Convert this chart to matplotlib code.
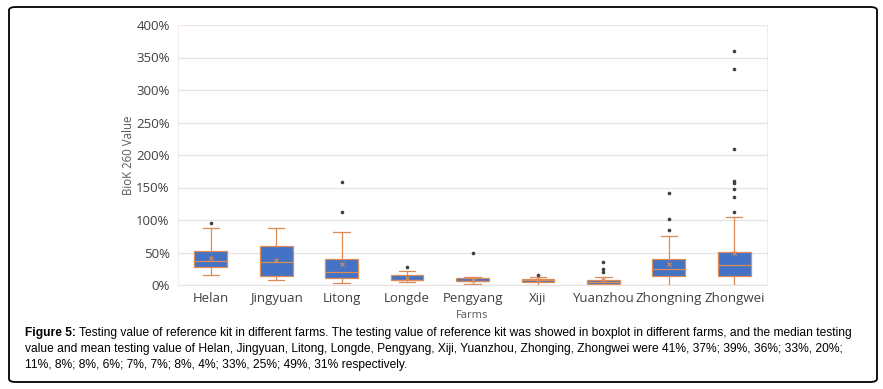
import matplotlib
matplotlib.use("Agg")
import matplotlib.pyplot as plt
from matplotlib.patches import FancyBboxPatch
from matplotlib.ticker import FuncFormatter

farms = ["Helan", "Jingyuan", "Litong", "Longde", "Pengyang", "Xiji", "Yuanzhou", "Zhongning", "Zhongwei"]
q1 = [27, 14, 11, 8, 6, 5, 1.5, 14, 14]
medians = [37, 36, 20, 8, 6, 7, 4, 25, 31]
q3 = [52, 59.5, 40, 16, 11, 9, 7, 39.5, 51]
whisker_low = [15, 7.7, 3, 4, 1, 0.5, 0.5, 0, 0.5]
whisker_high = [87, 87, 81.5, 21, 12, 12, 12, 75, 104]
means = [41, 39, 33, 11, 8, 7, 8, 33, 49]
outliers = [
    [95],
    [],
    [113, 158],
    [27.7],
    [50],
    [15],
    [20, 25, 35],
    [85, 101, 141],
    [112, 135, 148, 157, 160, 210, 332, 360],
]
y_ticks = [0, 50, 100, 150, 200, 250, 300, 350, 400]

W, H = 883, 389
fig = plt.figure(figsize=(W / 100, H / 100), dpi=100)
plt.rcParams['font.family'] = ['Open Sans', 'DejaVu Sans']

# outer rounded border
border = FancyBboxPatch((9 / W, 7 / H), 868 / W, 375 / H,
                        boxstyle="round,pad=0,rounding_size=0.008",
                        transform=fig.transFigure, fill=False,
                        edgecolor="black", linewidth=1.3)
fig.patches.append(border)

ax = fig.add_axes([178 / W, (H - 285) / H, 589 / W, 260 / H])

stats = []
for i, f in enumerate(farms):
    stats.append(dict(label=f, q1=q1[i], med=medians[i], q3=q3[i],
                      whislo=whisker_low[i], whishi=whisker_high[i],
                      mean=means[i], fliers=outliers[i]))

orange = "#DE8C55"
blue = "#4472C4"
ax.bxp(stats, positions=range(len(farms)), widths=0.5, patch_artist=True,
       showmeans=True, showfliers=True,
       boxprops=dict(facecolor=blue, edgecolor=orange, linewidth=0.9),
       medianprops=dict(color=orange, linewidth=0.9),
       whiskerprops=dict(color=orange, linewidth=0.9),
       capprops=dict(color=orange, linewidth=0.9),
       meanprops=dict(marker="x", markeredgecolor=orange, markersize=3, markeredgewidth=0.8),
       flierprops=dict(marker="o", markerfacecolor="#404040", markeredgecolor="#404040",
                       markersize=1.6))

ax.set_xlim(-0.5, len(farms) - 0.5)
ax.set_ylim(0, 400)
ax.set_yticks(y_ticks)
ax.yaxis.set_major_formatter(FuncFormatter(lambda v, p: f"{int(v)}%"))
ax.grid(axis="y", color="#E3E3E3", linewidth=0.9)
ax.set_axisbelow(True)
for s in ["top", "right", "left"]:
    ax.spines[s].set_color("#F2E6E6")
    ax.spines[s].set_linewidth(0.6)
ax.spines["bottom"].set_color("#E3E3E3")
ax.tick_params(axis="both", length=0, colors="#595959", labelsize=9.5)
ax.tick_params(axis="x", pad=5)
ax.tick_params(axis="y", pad=6)
ax.set_xticks(range(len(farms)))
ax.set_xticklabels(farms)
for lbl in ax.get_xticklabels() + ax.get_yticklabels():
    lbl.set_color("#404040")

fig.text(128 / W, 1 - 155 / H, "BioK 260 Value", rotation=90, ha="center", va="center",
         fontsize=8.3, color="#595959")
fig.text(472 / W, 1 - 315 / H, "Farms", ha="center", va="center", fontsize=8, color="#595959")

cap_font = ['Liberation Sans', 'DejaVu Sans']
cap_size = 8.65
x0 = 25
lines = [
    "Testing value of reference kit in different farms. The testing value of reference kit was showed in boxplot in different farms, and the median testing",
    "value and mean testing value of Helan, Jingyuan, Litong, Longde, Pengyang, Xiji, Yuanzhou, Zhonging, Zhongwei were 41%, 37%; 39%, 36%; 33%, 20%;",
    "11%, 8%; 8%, 6%; 7%, 7%; 8%, 4%; 33%, 25%; 49%, 31% respectively.",
]
t0 = fig.text(x0 / W, 1 - 333 / H, "Figure 5:", ha="left", va="center", fontsize=cap_size,
              fontweight="bold", family=cap_font)
fig.canvas.draw()
bb = t0.get_window_extent()
fig.text(bb.x1 / W + 3 / W, 1 - 333 / H, lines[0], ha="left", va="center",
         fontsize=cap_size, family=cap_font)
fig.text(x0 / W, 1 - 349 / H, lines[1], ha="left", va="center", fontsize=cap_size, family=cap_font)
fig.text(x0 / W, 1 - 365 / H, lines[2], ha="left", va="center", fontsize=cap_size, family=cap_font)

fig.savefig("out.png", dpi=100)
